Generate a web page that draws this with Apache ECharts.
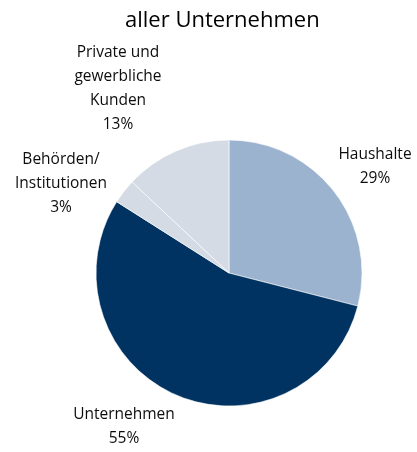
<!DOCTYPE html>
<html>
<head>
<meta charset="utf-8">
<script src="https://cdn.jsdelivr.net/npm/echarts@6/dist/echarts.min.js"></script>
<style>
  html, body { margin: 0; padding: 0; background: #ffffff; }
  #chart { width: 417px; height: 452px; }
</style>
</head>
<body>
<div id="chart"></div>
<script>
// Kundengruppen und ihre Anteile (%)
var categories = ['Haushalte', 'Unternehmen', 'Behörden/\nInstitutionen', 'Private und\ngewerbliche\nKunden'];
var shares = [29, 55, 3, 13];
var sliceColors = ['#9bb3ce', '#003361', '#d4dbe4', '#d4dbe4'];

// Mittelpunkte der Beschriftungsblöcke (Pixel)
var labelAnchors = [[375, 167], [124, 427], [61, 184], [118, 89]];

var chart = echarts.init(document.getElementById('chart'), null, { renderer: 'canvas' });

var pieData = categories.map(function (name, i) {
  return { name: name, value: shares[i], itemStyle: { color: sliceColors[i] } };
});

chart.setOption({
  animation: false,
  title: {
    text: 'aller Unternehmen',
    left: 120,
    top: 5,
    textStyle: {
      fontFamily: 'Open Sans',
      fontSize: 22,
      fontWeight: 'normal',
      color: '#000000'
    }
  },
  series: [{
    type: 'pie',
    center: [229, 273],
    radius: 133,
    startAngle: 90,
    clockwise: true,
    avoidLabelOverlap: false,
    data: pieData,
    itemStyle: { borderColor: '#ffffff', borderWidth: 0.6 },
    label: {
      show: true,
      position: 'outside',
      formatter: '{b}\n{c}%',
      fontFamily: 'Open Sans',
      fontSize: 15.5,
      lineHeight: 24,
      color: '#0d0d0d',
      align: 'center'
    },
    labelLine: { show: false },
    emphasis: { disabled: true },
    labelLayout: function (params) {
      var p = labelAnchors[params.dataIndex];
      return { x: p[0], y: p[1], align: 'center', verticalAlign: 'middle' };
    }
  }]
});
</script>
</body>
</html>
